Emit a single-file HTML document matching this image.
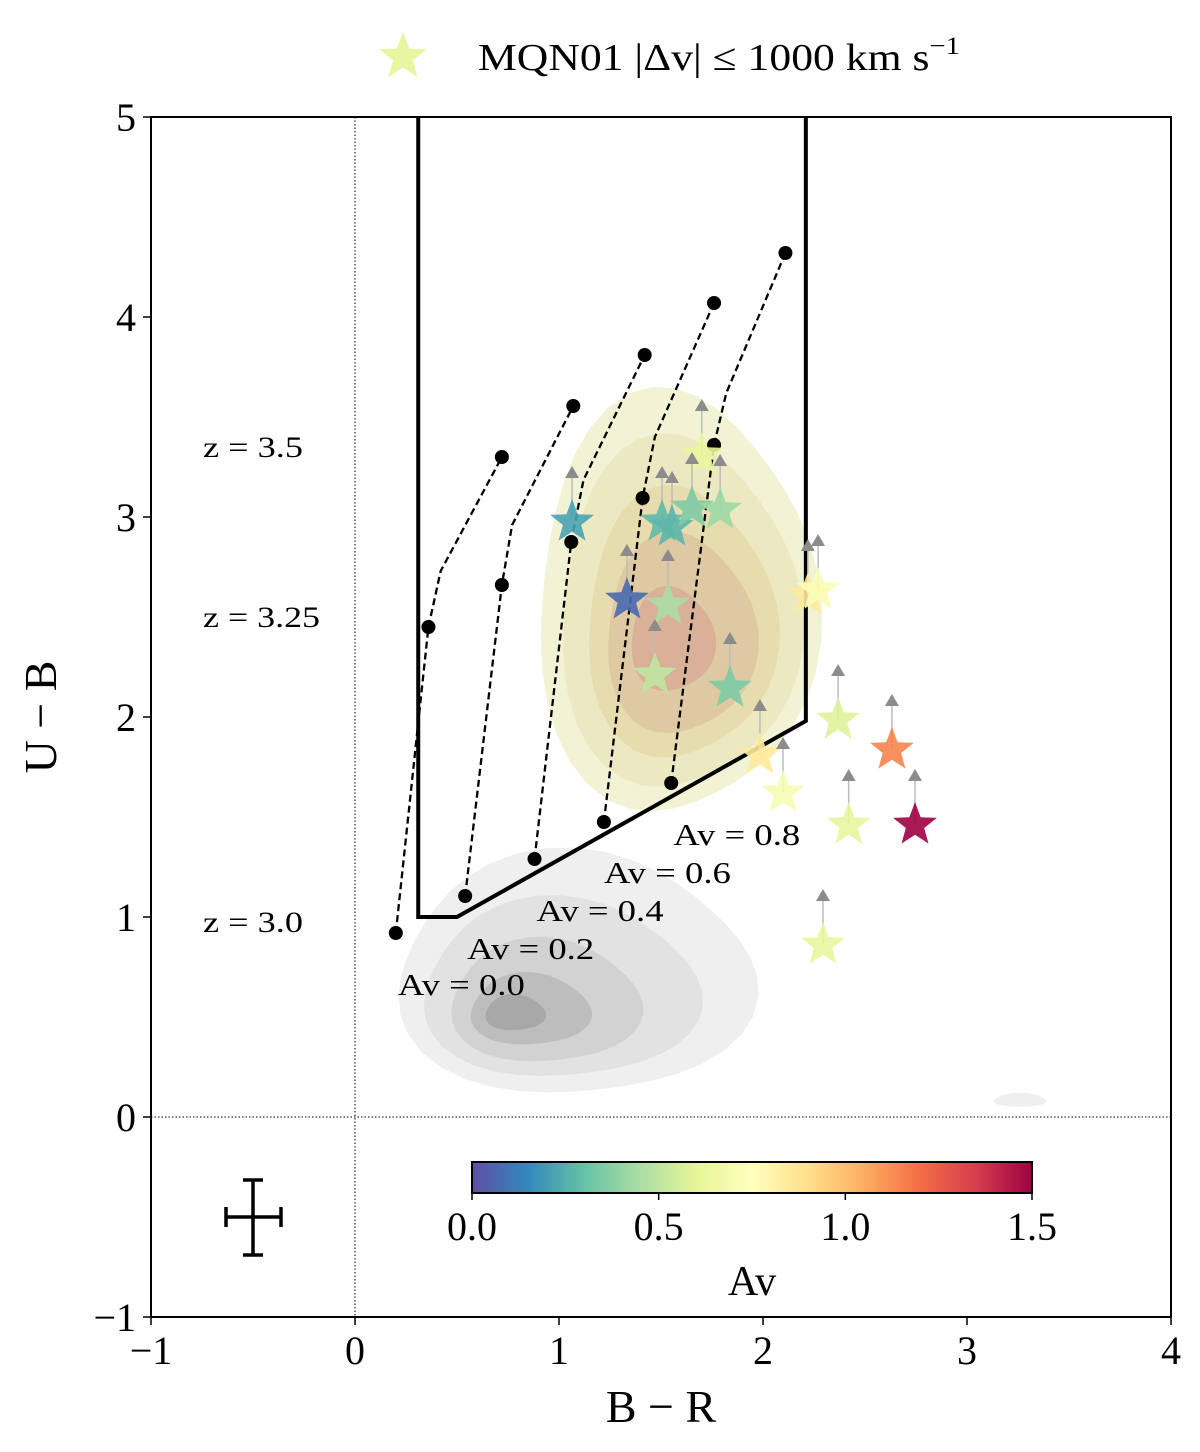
<!DOCTYPE html>
<html><head><meta charset="utf-8"><style>
body{margin:0;background:#fff;}
svg{display:block;font-family:"Liberation Serif",serif;}
</style></head><body>
<svg id="chart" width="1200" height="1452" viewBox="0 0 1200 1452" xmlns="http://www.w3.org/2000/svg">
<defs>
<linearGradient id="cbar" x1="0" x2="1" y1="0" y2="0">
<stop offset="0" stop-color="#5e4fa2"/><stop offset="0.1" stop-color="#3288bd"/><stop offset="0.2" stop-color="#66c2a5"/><stop offset="0.3" stop-color="#abdda4"/><stop offset="0.4" stop-color="#e6f598"/><stop offset="0.5" stop-color="#ffffbf"/><stop offset="0.6" stop-color="#fee08b"/><stop offset="0.7" stop-color="#fdae61"/><stop offset="0.8" stop-color="#f46d43"/><stop offset="0.9" stop-color="#d53e4f"/><stop offset="1" stop-color="#9e0142"/>
</linearGradient>
<clipPath id="plotclip"><rect x="151" y="117" width="1020" height="1200"/></clipPath>
</defs>
<g id="plot" clip-path="url(#plotclip)"></g>
<g id="over"></g>
</svg>
<script>
const xTicks=[-1,0,1,2,3,4];
const yTicks=[-1,0,1,2,3,4,5];
const cbTicks=[0.0,0.5,1.0,1.5];
const starX=[1.064,1.70,1.505,1.554,1.652,1.79,1.333,1.534,1.47,1.838,2.22,2.27,2.368,1.985,2.098,2.632,2.42,2.745,2.294];
const starY=[2.975,3.31,2.975,2.95,3.045,3.035,2.585,2.56,2.21,2.145,2.61,2.635,1.985,1.81,1.62,1.835,1.46,1.46,0.86];
const starAv=[0.22,0.62,0.28,0.27,0.35,0.42,0.07,0.45,0.5,0.35,0.85,0.72,0.58,0.85,0.7,1.15,0.62,1.5,0.62];
const trackX=[[0.2,0.36,0.42,0.72],[0.54,0.72,0.77,1.07],[0.88,1.06,1.12,1.42],[1.22,1.41,1.47,1.76],[1.55,1.76,1.82,2.11]];
const trackY=[[0.92,2.45,2.73,3.30],[1.105,2.66,2.96,3.555],[1.29,2.875,3.185,3.81],[1.475,3.095,3.40,4.07],[1.67,3.36,3.62,4.32]];
const boxX=[0.31,0.31,0.5,2.21,2.21];
const boxY=[5.2,1.0,1.0,1.98,5.2];
const avLabels=["Av = 0.0","Av = 0.2","Av = 0.4","Av = 0.6","Av = 0.8"];
const avLabX=[0.21,0.55,0.89,1.22,1.56];
const avLabY=[0.64,0.82,1.01,1.20,1.39];
const zLabels=["z = 3.5","z = 3.25","z = 3.0"];
const zLabY=[3.35,2.50,0.975];

const X0=151,X1=1171,Y0=1317,Y1=117;
const sx=v=>X0+(v+1)*(X1-X0)/5;
const sy=v=>Y0-(v+1)*(Y0-Y1)/6;
const NS="http://www.w3.org/2000/svg";
const svg=document.getElementById('chart');
const plot=document.getElementById('plot');
const over=document.getElementById('over');
function mk(tag,attrs,parent){const e=document.createElementNS(NS,tag);for(const k in attrs)e.setAttribute(k,attrs[k]);(parent||svg).appendChild(e);return e;}
const stops=[[0,'#5e4fa2'],[0.1,'#3288bd'],[0.2,'#66c2a5'],[0.3,'#abdda4'],[0.4,'#e6f598'],[0.5,'#ffffbf'],[0.6,'#fee08b'],[0.7,'#fdae61'],[0.8,'#f46d43'],[0.9,'#d53e4f'],[1,'#9e0142']];
function cmap(t){t=Math.max(0,Math.min(1,t));for(let i=0;i<stops.length-1;i++){const a=stops[i],b=stops[i+1];if(t<=b[0]){const f=(t-a[0])/(b[0]-a[0]);const p=c=>[1,3,5].map(j=>parseInt(c.substr(j,2),16));const A=p(a[1]),B=p(b[1]);return 'rgb('+A.map((v,k)=>Math.round(v+(B[k]-v)*f)).join(',')+')';}}return stops[10][1];}
function blob(cx,cy,rx,ry,skew,fill,name){const pts=[];for(let i=0;i<40;i++){const a=i/40*2*Math.PI;let r=1+0.06*Math.sin(3*a+skew);pts.push([cx+rx*r*Math.cos(a),cy+ry*r*Math.sin(a)]);}
const e=mk('path',{d:'M'+pts.map(p=>p.join(',')).join('L')+'Z',fill:fill},plot);

}
blob(574,976,178,122,0.5,'#efefef','grey-contour-1');
blob(560,990,138,90,0.5,'#e2e2e2','grey-contour-2');
blob(545,1002,95,62,0.5,'#d2d2d2','grey-contour-3');
blob(530,1010,60,36,0.5,'#bdbdbd','grey-contour-4');
blob(515,1013,30,18,0.5,'#a8a8a8','grey-contour-5');
blob(1020,1100,26,7,0,'#efefef','grey-contour-small');
blob(675,605,140,210,1,'#f2f2d4','yellow-contour-1');
blob(678,615,120,175,1,'#ece9c2','yellow-contour-2');
blob(680,625,95,135,1,'#e6dcae','yellow-contour-3');
blob(680,635,75,100,1,'#dfc9a2','yellow-contour-4');
blob(672,640,42,52,1,'#d9b098','yellow-contour-5');
mk('line',{x1:sx(0),x2:sx(0),y1:Y1,y2:Y0,stroke:'#000','stroke-width':1,'stroke-dasharray':'1.5,2'},plot);
mk('line',{x1:X0,x2:X1,y1:sy(0),y2:sy(0),stroke:'#000','stroke-width':1,'stroke-dasharray':'1.5,2'},plot);
let bp=boxX.map((v,i)=>sx(v)+','+sy(boxY[i])).join(' ');
let box=mk('polyline',{points:bp,fill:'none',stroke:'#000','stroke-width':4},plot);


trackX.forEach((tx,ti)=>{const ty=trackY[ti];
 const l=mk('polyline',{points:tx.map((v,i)=>sx(v)+','+sy(ty[i])).join(' '),fill:'none',stroke:'#000','stroke-width':2.3,'stroke-dasharray':'7,4'},plot);
 
 
 [0,1,3].forEach(i=>{const c=mk('circle',{cx:sx(tx[i]),cy:sy(ty[i]),r:7,fill:'#000'},plot);
 
 });
});
function starPath(cx,cy,R){const r=R*0.42;let p=[];for(let i=0;i<10;i++){const a=-Math.PI/2+i*Math.PI/5;const rr=i%2?r:R;p.push((cx+rr*Math.cos(a)).toFixed(1)+','+(cy+rr*Math.sin(a)).toFixed(1));}return 'M'+p.join('L')+'Z';}
starX.forEach((v,i)=>{const cx=sx(v),cy=sy(starY[i]);
 mk('line',{x1:cx,x2:cx,y1:cy,y2:cy-44,stroke:'#bbb','stroke-width':1.5},plot);
 const t=mk('path',{d:`M${cx-7},${cy-44}L${cx+7},${cy-44}L${cx},${cy-56}Z`,fill:'#8c8c8c'},plot);
 
 
 const s=mk('path',{d:starPath(cx,cy,23),fill:cmap(starAv[i]/1.5),'fill-opacity':0.9},plot);
 
 
});
avLabels.forEach((t,i)=>{const e=mk('text',{x:sx(avLabX[i]),y:sy(avLabY[i])+6,'font-size':31,textLength:127,lengthAdjust:'spacingAndGlyphs'},plot);e.textContent=t;
 
 });
zLabels.forEach((t,i)=>{const e=mk('text',{x:203,y:sy(zLabY[i])+10,'font-size':30,textLength:i==1?117:100,lengthAdjust:'spacingAndGlyphs'},plot);e.textContent=t;
 
 });
mk('path',{d:'M226,1217H281M253,1180V1255M226,1207V1227M281,1207V1227M243,1180H263M243,1255H263',stroke:'#000','stroke-width':3.5,fill:'none'},plot);
const cb=mk('rect',{x:472,y:1162,width:560,height:31,fill:'url(#cbar)',stroke:'#000','stroke-width':2},over);


cbTicks.forEach(v=>{const x=472+v/1.5*560;mk('line',{x1:x,x2:x,y1:1193,y2:1200,stroke:'#000','stroke-width':1.5},over);
 const e=mk('text',{x:x,y:1240,'font-size':40,'text-anchor':'middle'},over);e.textContent=v.toFixed(1);
 
 });
const cbt=mk('text',{x:752,y:1295,'font-size':42,'text-anchor':'middle'},over);cbt.textContent='Av';


const fr=mk('rect',{x:X0,y:Y1,width:X1-X0,height:Y0-Y1,fill:'none',stroke:'#000','stroke-width':2},over);


xTicks.forEach(v=>{const x=sx(v);mk('line',{x1:x,x2:x,y1:Y0,y2:Y0+8,stroke:'#000','stroke-width':1.5},over);
 const e=mk('text',{x:x,y:1364,'font-size':40,'text-anchor':'middle'},over);e.textContent=v<0?'\u2212'+(-v):v;
 
 });
yTicks.forEach(v=>{const y=sy(v);mk('line',{x1:X0-8,x2:X0,y1:y,y2:y,stroke:'#000','stroke-width':1.5},over);
 const e=mk('text',{x:136,y:y+14,'font-size':40,'text-anchor':'end'},over);e.textContent=v<0?'\u2212'+(-v):v;
 
 });
const xt=mk('text',{x:661,y:1422,'font-size':46,'text-anchor':'middle'},over);xt.textContent='B \u2212 R';


const yt=mk('text',{x:0,y:0,'font-size':46,'text-anchor':'middle',transform:'translate(56,717) rotate(-90)'},over);yt.textContent='U \u2212 B';


const ls=mk('path',{d:starPath(403,57,25),fill:cmap(0.6/1.5),'fill-opacity':0.9},over);


const lt=mk('text',{x:478,y:70,'font-size':38,textLength:482,lengthAdjust:'spacingAndGlyphs'},over);
lt.innerHTML='MQN01 |\u0394v| \u2264 1000 km s<tspan dy="-16" font-size="25">\u22121</tspan>';


</script>
</body></html>
